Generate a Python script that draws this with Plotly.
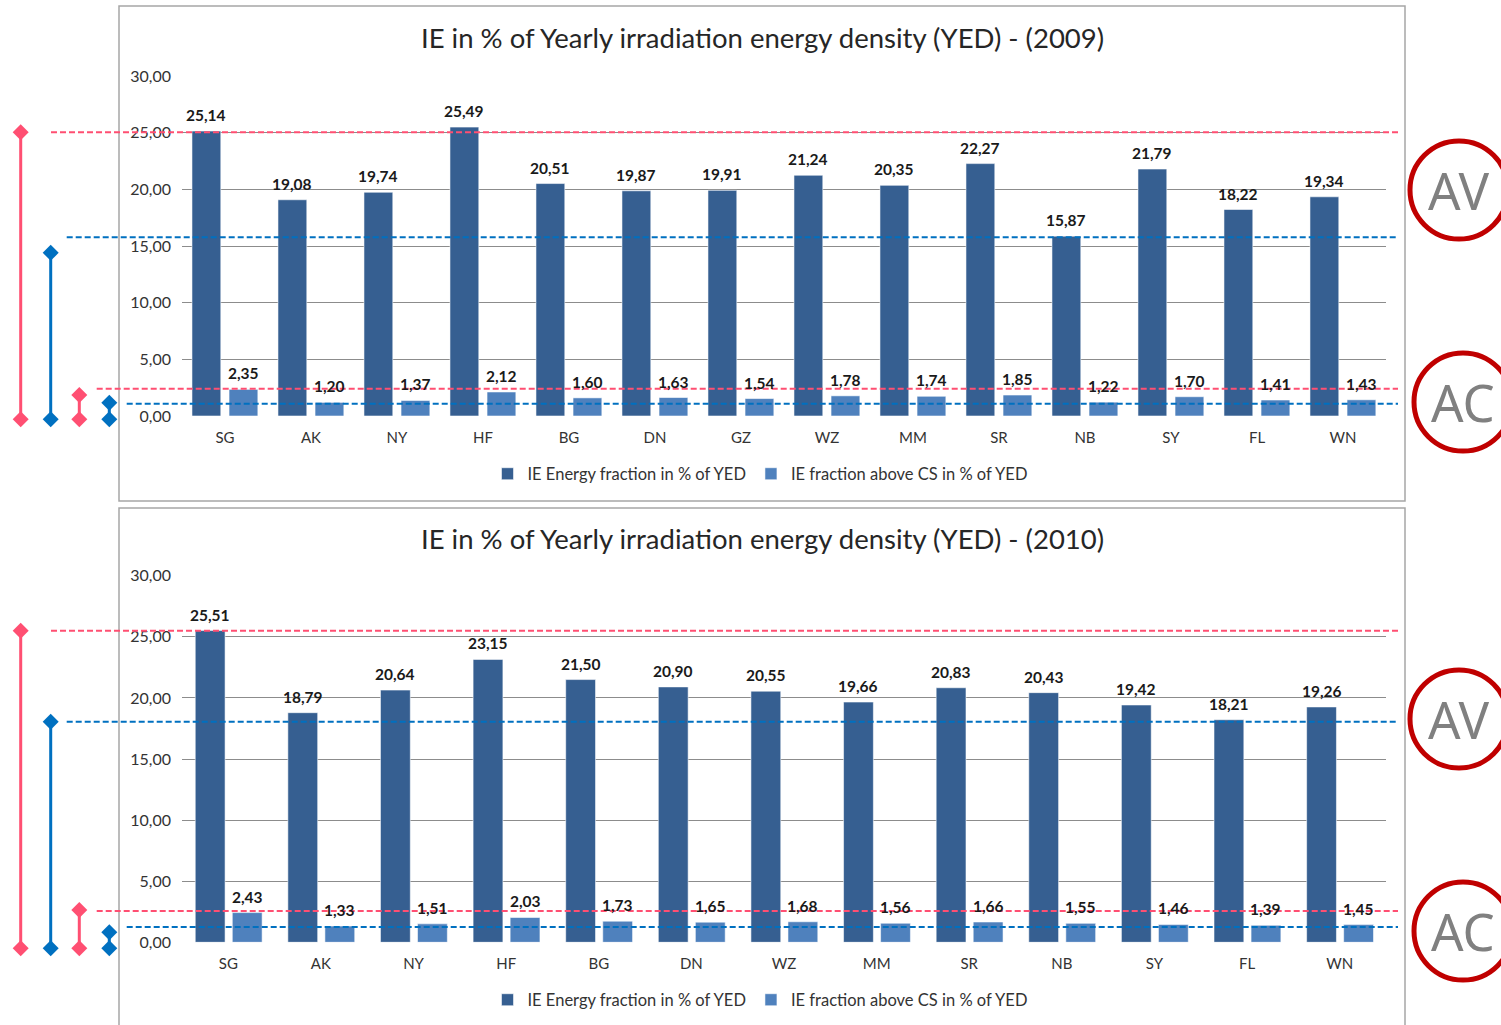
import plotly.graph_objects as go

W, H = 1501, 1025

# ---------------- data ----------------
cats_2009 = ["SG", "AK", "NY", "HF", "BG", "DN", "GZ", "WZ", "MM", "SR", "NB", "SY", "FL", "WN"]
ie_2009 = [25.14, 19.08, 19.74, 25.49, 20.51, 19.87, 19.91, 21.24, 20.35, 22.27, 15.87, 21.79, 18.22, 19.34]
cs_2009 = [2.35, 1.20, 1.37, 2.12, 1.60, 1.63, 1.54, 1.78, 1.74, 1.85, 1.22, 1.70, 1.41, 1.43]

cats_2010 = ["SG", "AK", "NY", "HF", "BG", "DN", "WZ", "MM", "SR", "NB", "SY", "FL", "WN"]
ie_2010 = [25.51, 18.79, 20.64, 23.15, 21.50, 20.90, 20.55, 19.66, 20.83, 20.43, 19.42, 18.21, 19.26]
cs_2010 = [2.43, 1.33, 1.51, 2.03, 1.73, 1.65, 1.68, 1.56, 1.66, 1.55, 1.46, 1.39, 1.45]

y_ticks = [0, 5, 10, 15, 20, 25, 30]

# dashed reference levels (AV high, AV low, AC high, AC low)
levels_2009 = [25.04, 15.78, 2.41, 1.08]
levels_2010 = [25.50, 18.05, 2.56, 1.25]
# tops of the bracket markers on the left
brackets_2009 = [25.04, 14.40, 1.85, 1.17]
brackets_2010 = [25.50, 18.05, 2.64, 0.82]

series_names = ["IE Energy fraction in % of YED", "IE fraction above CS in % of YED"]
titles = ["IE in % of Yearly irradiation energy density (YED) - (2009)",
          "IE in % of Yearly irradiation energy density (YED) - (2010)"]

# ---------------- styles ----------------
DARK = "#365F91"
LIGHT = "#4F81BD"
PINK = "#FF4F72"
BLUE = "#0070C0"
RED = "#C00000"
GRID = "#8C8C8C"
FONT = "Lato"
TXT = "#262626"


def px(x):
    return x / W


def py(y):
    return 1 - y / H


def fmt(v):
    return f"{v:.2f}".replace(".", ",")


fig = go.Figure()

PLOT_L, PLOT_R = 182, 1386
# bar geometry (fraction of category width) and pixel rows of each panel
panels = {
    "2009": dict(cats=cats_2009, ie=ie_2009, cs=cs_2009, xa="x", ya="y", lg="legend",
                 dark_off=-0.384, light_off=0.047, w=0.335, zero_px=416, base_px=419.3,
                 levels=levels_2009, brackets=brackets_2009),
    "2010": dict(cats=cats_2010, ie=ie_2010, cs=cs_2010, xa="x2", ya="y2", lg="legend2",
                 dark_off=-0.357, light_off=0.043, w=0.322, zero_px=942.3, base_px=948.3,
                 levels=levels_2010, brackets=brackets_2010),
}

annotations = []
for yr, p in panels.items():
    catw = (PLOT_R - PLOT_L) / len(p["cats"])
    for vals, col, name, off in [(p["ie"], DARK, series_names[0], p["dark_off"]),
                                 (p["cs"], LIGHT, series_names[1], p["light_off"])]:
        fig.add_trace(go.Bar(
            x=p["cats"], y=vals, name=name, xaxis=p["xa"], yaxis=p["ya"], legend=p["lg"],
            marker=dict(color=col, line=dict(color="rgba(255,255,255,0.55)", width=1)),
            offset=off, width=p["w"], hoverinfo="skip",
        ))
        shift = (off + p["w"] / 2) * catw
        for c, v in zip(p["cats"], vals):
            annotations.append(dict(
                text=fmt(v), xref=p["xa"], yref=p["ya"], x=c, y=v, xshift=shift, yshift=16,
                xanchor="center", yanchor="middle", showarrow=False,
                font=dict(family=FONT, size=15.5, color="#1a1a1a", weight="bold")))

xdom = [px(PLOT_L), px(PLOT_R)]
axis_common = dict(showgrid=False, ticks="", showline=False, zeroline=False, automargin=False,
                   tickfont=dict(family=FONT, size=15, color="#333333"),
                   ticklabelstandoff=11)
yaxis_common = dict(range=[0, 30], tickvals=y_ticks, tickformat=".2f", showgrid=True,
                    gridcolor=GRID, gridwidth=1, zeroline=False, showline=False, ticks="",
                    automargin=False,
                    tickfont=dict(family=FONT, size=16, color="#333333"),
                    ticklabelstandoff=10)

legend_common = dict(xanchor="center", yanchor="middle", orientation="h",
                     font=dict(family=FONT, size=16.5, color="#333333"), bgcolor="rgba(0,0,0,0)",
                     itemwidth=30, traceorder="normal")

fig.update_layout(
    template="none",
    width=W, height=H, autosize=False,
    margin=dict(l=0, r=0, t=0, b=0, pad=0),
    paper_bgcolor="white", plot_bgcolor="white",
    separators=",.",
    barmode="group",
    xaxis=dict(domain=xdom, anchor="y", **axis_common),
    yaxis=dict(domain=[py(416), py(76)], anchor="x", **yaxis_common),
    xaxis2=dict(domain=xdom, anchor="y2", **axis_common),
    yaxis2=dict(domain=[py(942.3), py(575.7)], anchor="x2", **yaxis_common),
    legend=dict(x=px(760), y=py(474), **legend_common),
    legend2=dict(x=px(760), y=py(1000), **legend_common),
    showlegend=True,
)

shapes = []

# panel borders
shapes.append(dict(type="rect", xref="paper", yref="paper", x0=px(119), x1=px(1405),
                   y0=py(501), y1=py(6), line=dict(color="#A6A6A6", width=1.5), layer="below"))
shapes.append(dict(type="rect", xref="paper", yref="paper", x0=px(119), x1=px(1405),
                   y0=py(1040), y1=py(508), line=dict(color="#A6A6A6", width=1.5), layer="below"))

line_starts = [51, 66.7, 96.7, 126.7]
bracket_x = [20.7, 50.7, 79.3, 109.3]
colors4 = [PINK, BLUE, PINK, BLUE]
diamond = "M0,8 L8,0 L0,-8 L-8,0 Z"

for yr, p in panels.items():
    yref = p["ya"]
    for i in range(4):
        c = colors4[i]
        bx = px(bracket_x[i])
        # dashed level line
        shapes.append(dict(type="line", xref="paper", yref=yref, x0=px(line_starts[i]), x1=px(1398),
                           y0=p["levels"][i], y1=p["levels"][i],
                           line=dict(color=c, width=2, dash="6px,3px"), layer="above"))
        # vertical bracket: data part + short extension below the axis
        shapes.append(dict(type="line", xref="paper", yref=yref, x0=bx, x1=bx,
                           y0=0, y1=p["brackets"][i], line=dict(color=c, width=3)))
        shapes.append(dict(type="line", xref="paper", yref="paper", x0=bx, x1=bx,
                           y0=py(p["base_px"]), y1=py(p["zero_px"]), line=dict(color=c, width=3)))
        # diamonds
        shapes.append(dict(type="path", xref="paper", yref=yref, xsizemode="pixel", ysizemode="pixel",
                           xanchor=bx, yanchor=p["brackets"][i], path=diamond,
                           fillcolor=c, line=dict(color=c, width=0)))
        shapes.append(dict(type="path", xref="paper", yref="paper", xsizemode="pixel", ysizemode="pixel",
                           xanchor=bx, yanchor=py(p["base_px"]), path=diamond,
                           fillcolor=c, line=dict(color=c, width=0)))

# circles with labels
for cx, cy, label in [(1459, 190, "AV"), (1463, 402, "AC"), (1459, 719, "AV"), (1463, 931, "AC")]:
    r = 49
    shapes.append(dict(type="circle", xref="paper", yref="paper", x0=px(cx - r), x1=px(cx + r),
                       y0=py(cy + r), y1=py(cy - r), line=dict(color=RED, width=5)))
    annotations.append(dict(text=label, xref="paper", yref="paper", x=px(cx), y=py(cy),
                            xanchor="center", yanchor="middle", showarrow=False,
                            font=dict(family="Noto Sans", size=51, color="#808080")))

# titles
for t, ty in zip(titles, [37, 538]):
    annotations.append(dict(text=t, xref="paper", yref="paper", x=px(762), y=py(ty),
                            xanchor="center", yanchor="middle", showarrow=False,
                            font=dict(family=FONT, size=27.5, color=TXT)))

fig.update_layout(shapes=shapes, annotations=annotations)

fig.write_html("out.html", config={"displayModeBar": False},
               post_script="document.body.style.margin='0';document.body.style.overflow='hidden';")
